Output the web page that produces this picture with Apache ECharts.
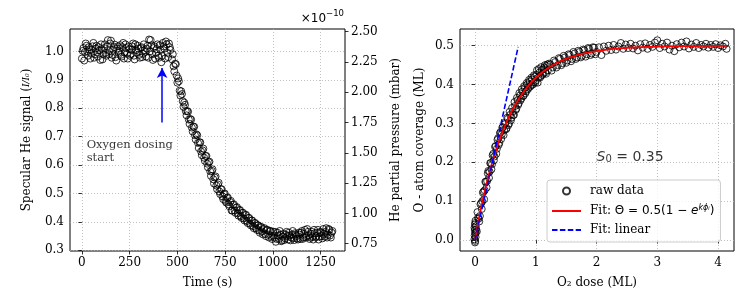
<!DOCTYPE html>
<html><head><meta charset="utf-8">
<script src="https://cdn.jsdelivr.net/npm/echarts@6/dist/echarts.min.js"></script>
<style>html,body{margin:0;padding:0;background:#fff}#c{width:747px;height:306px}</style>
</head><body><div id="c"></div>
<script>
// ---------- ticks ----------
const timeTicks = [0, 250, 500, 750, 1000, 1250];
const signalTicks = [0.3, 0.4, 0.5, 0.6, 0.7, 0.8, 0.9, 1.0];
const pressureTicks = [0.75, 1.0, 1.25, 1.5, 1.75, 2.0, 2.25, 2.5];
const doseTicks = [0, 1, 2, 3, 4];
const coverageTicks = [0, 0.1, 0.2, 0.3, 0.4, 0.5];

// ---------- left panel: specular He signal vs time (s) ----------
const signalPreDose = [
[0,0.975],[8,1.012],[16,0.998],[24,1.020],[32,0.985],[40,1.005],[48,0.992],[56,1.018],[64,0.978],[72,1.010],
[80,0.996],[88,1.015],[96,0.970],[104,1.008],[112,0.990],[120,1.025],[128,0.985],[136,1.040],[144,1.002],[152,1.038],
[160,0.988],[168,1.015],[176,0.980],[184,1.010],[192,0.995],[200,1.022],[208,0.982],[216,1.030],[224,0.998],[232,1.012],
[240,0.975],[248,1.008],[256,0.990],[264,1.018],[272,0.985],[280,1.025],[288,0.996],[296,1.010],[304,0.978],[312,1.015],
[320,0.992],[328,1.005],[336,0.982],[344,1.020],[352,1.042],[360,1.040],[368,0.990],[376,1.012],[384,0.975],[392,1.008],
[400,0.985],[408,1.022],[416,0.962],[424,1.030],[432,1.010],[440,1.035],[448,0.995],[456,1.028],[464,1.005],
[4,1.002],[12,0.968],[20,1.028],[28,1.000],[36,1.015],[44,0.975],[52,1.006],[60,1.030],[68,0.990],[76,1.020],
[84,0.982],[92,1.004],[100,1.025],[108,0.972],[116,1.012],[124,0.995],[132,1.018],[140,0.990],[148,1.028],[156,0.978],
[164,1.006],[172,1.024],[180,0.968],[188,1.018],[196,1.002],[204,0.988],[212,1.015],[220,0.975],[228,1.025],[236,0.992],
[244,1.018],[252,0.985],[260,1.006],[268,1.028],[276,0.972],[284,1.004],[292,1.020],[300,0.988],[308,1.012],[316,0.980],
[324,1.025],[332,0.998],[340,1.010],[348,0.978],[356,1.000],[364,1.022],[372,0.970],[380,1.018],[388,0.995],[396,1.025],
[404,0.978],[412,1.005],[420,0.985],[428,1.018],[436,0.975],[444,1.025],[452,0.980],[460,1.015]
];
const signalDecline = [
[472,0.972],[480,0.948],[488,0.957],[496,0.915],[504,0.905],[512,0.862],[520,0.860],[528,0.825],[536,0.820],[544,0.790],
[552,0.790],[560,0.760],[568,0.762],[576,0.732],[584,0.735],[592,0.705],[600,0.708],[608,0.678],[616,0.680],[624,0.648],
[632,0.652],[640,0.626],[648,0.632],[656,0.605],[664,0.610],[672,0.578],[680,0.580],[688,0.550],[696,0.556],[704,0.528],
[712,0.532],[720,0.507],[728,0.515],[736,0.490],[744,0.498],[752,0.474],[760,0.484],[768,0.462],[776,0.470],[784,0.440],
[792,0.460],[800,0.440],[808,0.450],[816,0.430],[824,0.441],[832,0.420],[840,0.432],[848,0.412],[856,0.424],[864,0.403],
[872,0.414],[880,0.394],[888,0.405],[896,0.385],[904,0.396],[912,0.378],[920,0.388],[928,0.370],[936,0.382],[944,0.366],
[952,0.374],[960,0.358],[968,0.371],[976,0.355],[984,0.368],[992,0.350],[1000,0.365],
[476,0.990],[484,0.930],[492,0.955],[500,0.890],[508,0.895],[516,0.845],[524,0.850],[532,0.805],[540,0.812],[548,0.775],
[556,0.788],[564,0.745],[572,0.760],[580,0.718],[588,0.735],[596,0.690],[604,0.705],[612,0.660],[620,0.680],[628,0.635],
[636,0.658],[644,0.615],[652,0.632],[660,0.592],[668,0.612],[676,0.562],[684,0.585],[692,0.535],[700,0.560],[708,0.515],
[716,0.538],[724,0.498],[732,0.515],[740,0.480],[748,0.500],[756,0.468],[764,0.486],[772,0.455],[780,0.474],[788,0.440],
[796,0.462],[804,0.432],[812,0.452],[820,0.422],[828,0.442],[836,0.414],[844,0.432],[852,0.405],[860,0.425],[868,0.396],
[876,0.414],[884,0.388],[892,0.405],[900,0.378],[908,0.396],[916,0.372],[924,0.388],[932,0.362],[940,0.382],[948,0.356],
[956,0.378],[964,0.350],[972,0.372],[980,0.345],[988,0.368],[996,0.340]
];
const signalSaturated = [
[1008,0.345],[1016,0.330],[1024,0.362],[1032,0.340],[1040,0.355],[1048,0.335],[1056,0.358],[1064,0.342],[1072,0.365],[1080,0.338],
[1088,0.352],[1096,0.345],[1104,0.368],[1112,0.336],[1120,0.355],[1128,0.342],[1136,0.362],[1144,0.340],[1152,0.368],[1160,0.345],
[1168,0.372],[1176,0.350],[1184,0.365],[1192,0.340],[1200,0.358],[1208,0.348],[1216,0.372],[1224,0.345],[1232,0.362],[1240,0.338],
[1248,0.365],[1256,0.350],[1264,0.375],[1272,0.348],[1280,0.378],[1288,0.355],[1296,0.372],[1304,0.345],[1312,0.368],
[1004,0.352],[1012,0.365],[1020,0.340],[1028,0.352],[1036,0.368],[1044,0.332],[1052,0.348],[1060,0.336],[1068,0.355],[1076,0.350],
[1084,0.362],[1092,0.335],[1100,0.355],[1108,0.342],[1116,0.360],[1124,0.350],[1132,0.338],[1140,0.355],[1148,0.362],[1156,0.340],
[1164,0.358],[1172,0.345],[1180,0.375],[1188,0.352],[1196,0.345],[1204,0.365],[1212,0.338],[1220,0.360],[1228,0.350],[1236,0.372],
[1244,0.348],[1252,0.362],[1260,0.342],[1268,0.358],[1276,0.365],[1284,0.345],[1292,0.375],[1300,0.352],[1308,0.362]
];
// annotation (data coordinates)
const arrowTime = 420, arrowFrom = 0.75, arrowTo = 0.942;
const noteTime = 25, noteSignal = 0.648;

// ---------- right panel: O coverage vs O2 dose (ML) ----------
const coverageRaw = [
[-0.01,0.002],[0.0,-0.006],[0.005,0.018],[-0.008,0.032],[0.004,0.044],[0.01,0.008],[0.008,0.05],[-0.004,0.026],[0.012,0.036],[0.002,-0.002],[-0.006,0.012],[0.0,0.04],
[0.02,0.028],[0.04,0.072],[0.06,0.055],[0.08,0.062],[0.10,0.095],[0.12,0.100],[0.14,0.125],[0.16,0.128],[0.18,0.150],[0.20,0.152],
[0.22,0.178],[0.24,0.176],[0.26,0.198],[0.28,0.195],[0.30,0.222],[0.32,0.215],[0.34,0.242],[0.36,0.235],[0.38,0.262],[0.40,0.250],
[0.42,0.278],[0.44,0.272],[0.46,0.290],[0.48,0.283],[0.50,0.302],[0.52,0.288],[0.54,0.312],[0.56,0.300],[0.58,0.322],[0.60,0.315],
[0.62,0.330],[0.64,0.322],[0.66,0.345],[0.68,0.338],[0.70,0.360],[0.72,0.352],[0.74,0.372],[0.76,0.364],[0.78,0.382],[0.80,0.372],
[0.82,0.392],[0.84,0.383],[0.86,0.400],[0.88,0.392],[0.90,0.408],[0.92,0.398],[0.94,0.413],[0.96,0.405],[0.98,0.420],[1.00,0.410],
[1.02,0.437],[1.04,0.418],[1.06,0.431],[1.08,0.422],[1.10,0.438],[1.12,0.428],[1.14,0.444],[1.16,0.432],[1.18,0.448],[1.20,0.437],
[0.01,0.020],[0.03,0.022],[0.05,0.058],[0.07,0.048],[0.09,0.092],[0.11,0.080],[0.13,0.122],[0.15,0.105],[0.17,0.150],[0.19,0.135],
[0.21,0.172],[0.23,0.160],[0.25,0.198],[0.27,0.182],[0.29,0.218],[0.31,0.205],[0.33,0.240],[0.35,0.222],[0.37,0.258],[0.39,0.245],
[0.41,0.275],[0.43,0.260],[0.45,0.290],[0.47,0.270],[0.49,0.298],[0.51,0.285],[0.53,0.315],[0.55,0.296],[0.57,0.330],[0.59,0.308],
[0.61,0.340],[0.63,0.322],[0.65,0.355],[0.67,0.335],[0.69,0.366],[0.71,0.348],[0.73,0.378],[0.75,0.360],[0.77,0.388],[0.79,0.370],
[0.81,0.396],[0.83,0.378],[0.85,0.404],[0.87,0.388],[0.89,0.412],[0.91,0.395],[0.93,0.418],[0.95,0.400],[0.97,0.424],[0.99,0.405],
[1.01,0.425],[1.03,0.405],[1.05,0.440],[1.07,0.418],[1.09,0.445],[1.11,0.425],[1.13,0.440],[1.15,0.450],[1.17,0.428],[1.19,0.452],
[1.22,0.454],[1.26,0.436],[1.30,0.462],[1.34,0.444],[1.38,0.468],[1.42,0.450],[1.46,0.474],[1.50,0.456],[1.54,0.478],[1.58,0.460],
[1.62,0.484],[1.66,0.466],[1.70,0.487],[1.74,0.470],[1.78,0.490],[1.82,0.472],[1.86,0.494],[1.90,0.476],[1.94,0.496],[1.98,0.478],
[1.24,0.452],[1.28,0.444],[1.32,0.458],[1.36,0.450],[1.40,0.466],[1.44,0.455],[1.48,0.470],[1.52,0.462],[1.56,0.476],[1.60,0.466],
[1.64,0.480],[1.68,0.470],[1.72,0.484],[1.76,0.474],[1.80,0.488],[1.84,0.478],[1.88,0.492],[1.92,0.480],[1.96,0.495],[2.00,0.484],
[2.04,0.496],[2.08,0.476],[2.12,0.498],[2.16,0.487],[2.20,0.500],[2.24,0.489],[2.28,0.502],[2.32,0.490],[2.36,0.498],[2.40,0.507],
[2.44,0.492],[2.48,0.503],[2.52,0.494],[2.56,0.505],[2.60,0.493],[2.64,0.500],[2.68,0.488],[2.72,0.504],[2.76,0.495],[2.80,0.506],
[2.84,0.492],[2.88,0.502],[2.92,0.497],[2.96,0.508],[3.00,0.514],[3.04,0.494],[3.08,0.505],[3.12,0.498],[3.16,0.508],[3.20,0.490],
[3.24,0.500],[3.28,0.486],[3.32,0.504],[3.36,0.496],[3.40,0.508],[3.44,0.498],[3.48,0.511],[3.52,0.493],[3.56,0.503],[3.60,0.497],
[3.64,0.507],[3.68,0.494],[3.72,0.502],[3.76,0.498],[3.80,0.505],[3.84,0.495],[3.88,0.502],[3.92,0.497],[3.96,0.504],[4.00,0.494],
[4.04,0.501],[4.08,0.498],[4.12,0.505],[4.14,0.492]
];
const fitDose = [0,0.04,0.08,0.12,0.16,0.2,0.25,0.3,0.35,0.4,0.45,0.5,0.6,0.7,0.8,0.9,1.0,1.1,1.2,1.32,1.44,1.6,1.8,2.0,2.2,2.4,2.6,2.8,3.0,3.3,3.6,3.9,4.14];
const fitCoverage = [0,0.0347,0.0671,0.0971,0.1251,0.1512,0.1812,0.2086,0.2337,0.2566,0.2776,0.2967,0.3302,0.3582,0.3815,0.4011,0.4174,0.4310,0.4423,0.4535,0.4626,0.4719,0.4804,0.4863,0.4905,0.4933,0.4954,0.4968,0.4978,0.4987,0.4992,0.4996,0.4997];
const linearDose = [0, 0.71];
const linearCoverage = [0, 0.497];
const s0Pos = [2.0, 0.213];

// ---------- chart ----------
const serif = 'DejaVu Serif';
const sans = 'DejaVu Sans';
const zip = (a, b) => a.map((v, i) => [v, b[i]]);

function xAx(grid, min, max, ticks, name, gap) {
  return {
    type: 'value', gridIndex: grid, min: min, max: max,
    axisLine: { show: false },
    axisTick: { show: true, customValues: ticks, length: 3.5, lineStyle: { color: '#000', width: 0.8 } },
    axisLabel: { customValues: ticks, margin: 6, fontFamily: serif, fontSize: 12, color: '#000',
      formatter: v => String(v) },
    splitLine: { show: true, lineStyle: { color: '#b0b0b0', width: 0.8, type: [1, 2] } },
    name: name, nameLocation: 'middle', nameGap: gap,
    nameTextStyle: { fontFamily: serif, fontSize: 12, color: '#000' }
  };
}
function yAx(grid, min, max, ticks, dec, name, gap, pos, split) {
  return {
    type: 'value', gridIndex: grid, min: min, max: max, position: pos,
    axisLine: { show: false },
    axisTick: { show: true, customValues: ticks, length: 3.5, lineStyle: { color: '#000', width: 0.8 } },
    axisLabel: { customValues: ticks, margin: 6, fontFamily: serif, fontSize: 12, color: '#000',
      formatter: v => v.toFixed(dec) },
    splitLine: { show: split, lineStyle: { color: '#b0b0b0', width: 0.8, type: [1, 2] } },
    name: name, nameLocation: 'middle', nameGap: gap, nameRotate: 90,
    nameTextStyle: { fontFamily: serif, fontSize: 12, color: '#000',
      rich: { f: { fontFamily: serif, fontSize: 9, fontStyle: 'italic', color: '#000' } } }
  };
}

const circleStyle = { color: 'rgba(0,0,0,0)', borderColor: '#000', borderWidth: 1 };
const noSymbol = { color: 'rgba(0,0,0,0)', borderWidth: 0, opacity: 0 };

const chart = echarts.init(document.getElementById('c'), null, { renderer: 'canvas' });
chart.setOption({
  animation: false,
  backgroundColor: '#fff',
  grid: [
    { left: 70, top: 29, width: 275, height: 222, show: true, borderColor: '#000', borderWidth: 1, backgroundColor: 'transparent' },
    { left: 460, top: 29, width: 274, height: 222, show: true, borderColor: '#000', borderWidth: 1, backgroundColor: 'transparent' }
  ],
  xAxis: [
    xAx(0, -62.4, 1378, timeTicks, 'Time (s)', 26),
    xAx(1, -0.247, 4.262, doseTicks, 'O₂ dose (ML)', 26)
  ],
  yAxis: [
    yAx(0, 0.2976, 1.079, signalTicks, 1, 'Specular He signal ({f|I/I₀})', 37, 'left', true),
    yAx(0, 0.690, 2.522, pressureTicks, 2, 'He partial pressure (mbar)', 45, 'right', false),
    yAx(1, -0.028, 0.543, coverageTicks, 1, 'O - atom coverage (ML)', 34, 'left', true)
  ],
  legend: {
    data: ['raw data', { name: 'fit', itemStyle: noSymbol }, { name: 'linear', itemStyle: noSymbol }],
    orient: 'vertical', left: 547, top: 180,
    itemWidth: 29, itemHeight: 7, itemGap: 7,
    padding: [5, 6, 6, 4],
    backgroundColor: 'rgba(255,255,255,0.8)', borderColor: '#cccccc', borderWidth: 1, borderRadius: 3,
    selectedMode: false,
    formatter: n => n === 'raw data' ? '{t|raw data}' : n === 'fit'
      ? '{t|Fit: }{m|Θ = 0.5(1 − }{e|e}{s|kϕᵢ}{m|)}' : '{t|Fit: linear}',
    textStyle: {
      fontFamily: serif, fontSize: 12, color: '#000', padding: [0, 0, 0, 4],
      rich: {
        t: { fontFamily: serif, fontSize: 12, color: '#000', lineHeight: 14 },
        m: { fontFamily: sans, fontSize: 12, color: '#000', lineHeight: 14 },
        e: { fontFamily: sans, fontSize: 12, fontStyle: 'italic', color: '#000', lineHeight: 14 },
        s: { fontFamily: sans, fontSize: 8, fontStyle: 'italic', color: '#000', verticalAlign: 'top', lineHeight: 14 }
      }
    }
  },
  series: [
    { type: 'scatter', name: 'signal', xAxisIndex: 0, yAxisIndex: 0, data: signalPreDose,
      symbol: 'circle', symbolSize: 7, itemStyle: circleStyle, silent: true },
    { type: 'scatter', name: 'signal', xAxisIndex: 0, yAxisIndex: 0, data: signalDecline,
      symbol: 'circle', symbolSize: 7, itemStyle: circleStyle, silent: true },
    { type: 'scatter', name: 'signal', xAxisIndex: 0, yAxisIndex: 0, data: signalSaturated,
      symbol: 'circle', symbolSize: 7, itemStyle: circleStyle, silent: true },
    { type: 'scatter', name: 'note', xAxisIndex: 0, yAxisIndex: 0, data: [[noteTime, noteSignal]],
      symbolSize: 0, silent: true,
      label: { show: true, position: [0, 0], align: 'left', verticalAlign: 'middle',
        formatter: 'Oxygen dosing\nstart', fontFamily: serif, fontSize: 11.5, lineHeight: 13, color: '#000' },
      markLine: { silent: true, symbol: ['none', 'arrow'], symbolSize: [8, 10],
        lineStyle: { color: '#0000ff', width: 1.5, type: 'solid' }, label: { show: false },
        data: [[{ coord: [arrowTime, arrowFrom] }, { coord: [arrowTime, arrowTo] }]] } },
    { type: 'scatter', name: 'raw data', xAxisIndex: 1, yAxisIndex: 2, data: coverageRaw,
      symbol: 'circle', symbolSize: 7, itemStyle: circleStyle, silent: true },
    { type: 'line', name: 'fit', xAxisIndex: 1, yAxisIndex: 2, data: zip(fitDose, fitCoverage),
      smooth: true, symbol: 'none', lineStyle: { color: '#ff0000', width: 1.8 }, itemStyle: { color: '#ff0000' }, silent: true, z: 5 },
    { type: 'line', name: 'linear', xAxisIndex: 1, yAxisIndex: 2, data: zip(linearDose, linearCoverage),
      symbol: 'none', lineStyle: { color: '#0000ff', width: 1.6, type: [5.5, 2.4] }, itemStyle: { color: '#0000ff' }, silent: true, z: 5 },
    { type: 'scatter', name: 'S0', xAxisIndex: 1, yAxisIndex: 2, data: [s0Pos], symbolSize: 0, silent: true,
      label: { show: true, position: [0, 0], align: 'left', verticalAlign: 'middle',
        formatter: '{i|S}{s|0}{n| = 0.35}',
        rich: {
          i: { fontFamily: sans, fontSize: 14, fontStyle: 'italic', color: '#000' },
          s: { fontFamily: sans, fontSize: 10, color: '#000', verticalAlign: 'bottom' },
          n: { fontFamily: sans, fontSize: 14, color: '#000' }
        } } }
  ],
  graphic: [
    { type: 'text', right: 403, top: 9, silent: true,
      style: { text: '{a|×10}{b|−10}', rich: {
        a: { fontFamily: sans, fontSize: 12, fill: '#000', verticalAlign: 'bottom', lineHeight: 16 },
        b: { fontFamily: sans, fontSize: 8.5, fill: '#000', verticalAlign: 'top', lineHeight: 16 } } } }
  ]
});
</script></body></html>
